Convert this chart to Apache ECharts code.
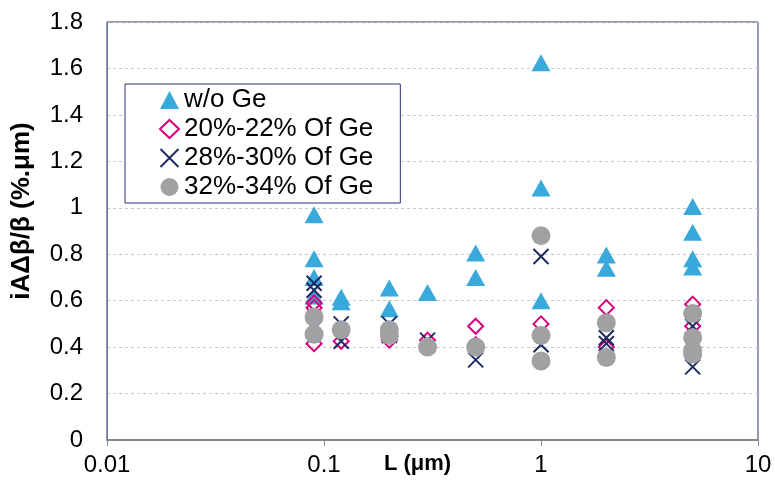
<!DOCTYPE html>
<html>
<head>
<meta charset="utf-8">
<script src="https://cdn.jsdelivr.net/npm/echarts@6/dist/echarts.min.js"></script>
<style>
html,body{margin:0;padding:0;background:#fff;}
#chart{width:775px;height:491px;}
</style>
</head>
<body>
<div id="chart"></div>
<script>
// data: [L (um), value]
var woGe = [[0.09,0.97],[0.09,0.78],[0.09,0.70],[0.09,0.62],[0.12,0.615],[0.12,0.595],[0.2,0.655],[0.2,0.565],
	[0.3,0.635],[0.5,0.805],[0.5,0.70],[1,1.625],[1,1.085],[1,0.60],[2,0.797],[2,0.74],[5,1.005],[5,0.895],[5,0.78],[5,0.745]];
var ge20 = [[0.09,0.59],[0.09,0.57],[0.09,0.415],[0.12,0.425],[0.12,0.465],[0.2,0.43],[0.2,0.47],[0.3,0.43],
	[0.5,0.49],[0.5,0.41],[1,0.50],[1,0.45],[2,0.57],[2,0.40],[5,0.585],[5,0.49],[5,0.40]];
var ge28 = [[0.09,0.675],[0.09,0.645],[0.09,0.48],[0.12,0.425],[0.12,0.50],[0.2,0.50],[0.2,0.45],[0.3,0.43],
	[0.5,0.345],[1,0.79],[1,0.41],[2,0.44],[2,0.415],[5,0.49],[5,0.43],[5,0.315]];
var ge32 = [[0.09,0.53],[0.09,0.455],[0.12,0.475],[0.2,0.475],[0.2,0.45],[0.3,0.40],[0.5,0.40],[1,0.88],[1,0.45],
	[1,0.34],[2,0.505],[2,0.355],[5,0.545],[5,0.44],[5,0.385],[5,0.37]];
var seriesNames = ['w/o Ge','20%-22% Of Ge','28%-30% Of Ge','32%-34% Of Ge'];

var chart = echarts.init(document.getElementById('chart'));
var font = 'Liberation Sans, Arial, sans-serif';
chart.setOption({
	animation:false,
	backgroundColor:'#fff',
	grid:{left:107,right:17,top:22,bottom:51,outerBoundsMode:'none',containLabel:false,
		show:true,borderColor:'#26336e',borderWidth:1},
	legend:{
		orient:'vertical',left:125,top:84,
		backgroundColor:'#fff',borderColor:'#26336e',borderWidth:1,
		padding:[3,27,3,34],itemGap:3,itemWidth:19,itemHeight:18,
		textStyle:{fontFamily:font,fontSize:26,color:'#000'},
		data:seriesNames
	},
	xAxis:{
		type:'log',logBase:10,min:0.01,max:10,
		name:'L (μm)',nameLocation:'middle',nameGap:13,nameMoveOverlap:false,
		nameTextStyle:{fontFamily:font,fontSize:22,fontWeight:'bold',color:'#000',padding:[0,30,0,0]},
		axisLine:{lineStyle:{color:'#888',width:2}},
		axisTick:{show:true,length:6,lineStyle:{color:'#888'}},
		axisLabel:{fontFamily:font,fontSize:24,color:'#000',margin:13,formatter:function(v){return String(+v.toPrecision(3));}},
		splitLine:{show:false},minorTick:{show:false}
	},
	yAxis:{
		type:'value',min:0,max:1.8,interval:0.2,
		name:'iAΔβ/β (%.μm)',nameLocation:'middle',nameGap:72,nameMoveOverlap:false,
		nameTextStyle:{fontFamily:font,fontSize:26,fontWeight:'bold',color:'#000',padding:[0,0,0,40]},
		axisLine:{show:true,lineStyle:{color:'#6a76a0',width:1}},
		axisTick:{show:false},
		axisLabel:{fontFamily:font,fontSize:24,color:'#000',margin:24,formatter:function(v){return String(+v.toFixed(1));}},
		splitLine:{lineStyle:{color:'#c8c8c8',type:[3,3],width:1}}
	},
	series:[
		{name:seriesNames[0],type:'scatter',data:woGe,symbol:'triangle',symbolSize:[19,17],
			itemStyle:{color:'#39a9dc',opacity:1}},
		{name:seriesNames[1],type:'scatter',data:ge20,symbol:'diamond',symbolSize:15,
			itemStyle:{color:'transparent',borderColor:'#d5007b',borderWidth:2,opacity:1}},
		{name:seriesNames[2],type:'scatter',data:ge28,symbol:'path://M0,0L10,10M10,0L0,10',symbolSize:15,
			itemStyle:{color:'transparent',borderColor:'#1c2a63',borderWidth:2,opacity:1}},
		{name:seriesNames[3],type:'scatter',data:ge32,symbol:'circle',symbolSize:19,
			itemStyle:{color:'#a0a1a3',opacity:1}}
	]
});
</script>
</body>
</html>
